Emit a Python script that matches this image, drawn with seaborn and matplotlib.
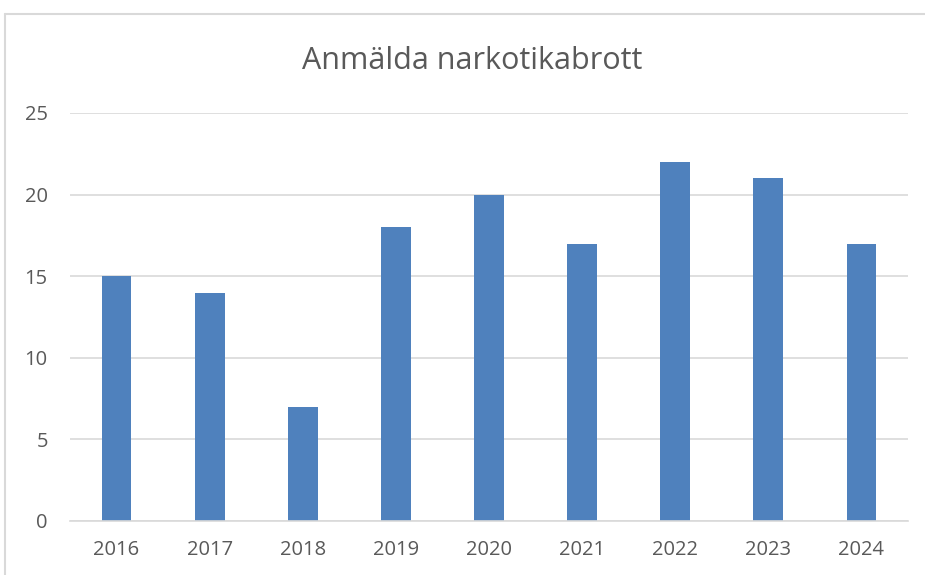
import pandas as pd
import numpy as np
import seaborn as sns
import matplotlib.pyplot as plt
from matplotlib.lines import Line2D

# Data
years = ["2016", "2017", "2018", "2019", "2020", "2021", "2022", "2023", "2024"]
counts = [15, 14, 7, 18, 20, 17, 22, 21, 17]
yticks = [0, 5, 10, 15, 20, 25]

df = pd.DataFrame({"year": years, "count": counts})

sns.set_style("white")
plt.rcParams["font.family"] = ["Open Sans", "DejaVu Sans"]

fig = plt.figure(figsize=(9.25, 5.75), dpi=100)
ax = fig.add_axes([70 / 925, 1 - 521 / 575, (908 - 70) / 925, (521 - 113) / 575])

sns.barplot(data=df, x="year", y="count", color="#4f81bd", width=0.32,
            saturation=1, linewidth=0, ax=ax, zorder=3)

ax.set_ylim(0, 25)
ax.set_yticks(yticks)
ax.set_xlim(-0.5, len(years) - 0.5)
ax.yaxis.grid(True, color="#d9d9d9", linewidth=1.2, zorder=0)
ax.set_axisbelow(True)
for s in ["top", "right", "left"]:
    ax.spines[s].set_visible(False)
ax.spines["bottom"].set_color("#d9d9d9")
ax.spines["bottom"].set_linewidth(1.2)
ax.spines["bottom"].set_zorder(4)
ax.tick_params(axis="both", length=0, labelsize=14.5, colors="#595959")
ax.tick_params(axis="y", pad=16)
ax.tick_params(axis="x", pad=14)
ax.set_xlabel("")
ax.set_ylabel("")

fig.text(472 / 925, 1 - 61 / 575, "Anmälda narkotikabrott", ha="center", va="center",
         fontsize=22, color="#595959")

# chart border (top and left visible in the crop)
fig.add_artist(Line2D([5 / 925, 1.0], [1 - 14 / 575, 1 - 14 / 575],
                      transform=fig.transFigure, color="#d9d9d9", linewidth=1.5))
fig.add_artist(Line2D([5 / 925, 5 / 925], [0.0, 1 - 14 / 575],
                      transform=fig.transFigure, color="#d9d9d9", linewidth=1.5))

fig.savefig("out.png", dpi=100)
